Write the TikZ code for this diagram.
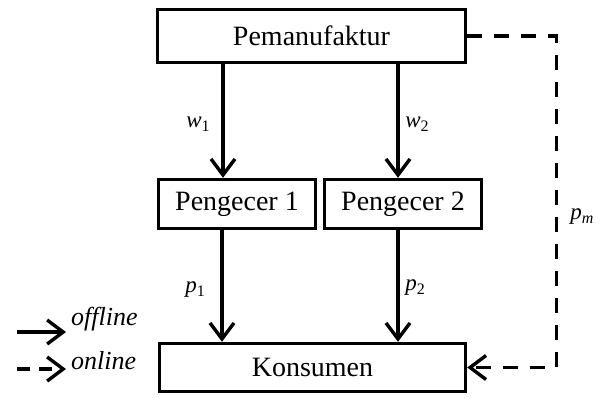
\documentclass[tikz,border=0pt]{standalone}
\usepackage{fontspec}
\setmainfont{Liberation Serif}
\usetikzlibrary{arrows.meta,calc}
\newcommand\mylbl[2]{\textit{#1}\raisebox{-0.35ex}{\fontsize{16}{18}\selectfont #2}}
\tikzset{
  box/.style={draw,line width=3.4pt,rectangle,inner sep=0pt,font=\fontsize{28}{32}\selectfont},
  arr/.style={line width=3.4pt,-{Straight Barb[length=16pt,width=24pt,line width=3.4pt]}},
  darr/.style={arr,dash pattern=on 15pt off 12pt},
  lab/.style={font=\fontsize{23}{27}\selectfont,inner sep=0pt},
  leg/.style={font=\fontsize{26}{30}\selectfont\itshape,inner sep=0pt,anchor=base west}
}
\begin{document}
\begin{tikzpicture}[x=1pt,y=-1pt]
\useasboundingbox (0,0) rectangle (610,397);
\node[box,minimum width=308pt,minimum height=53pt] (pem) at (311.5,36) {Pemanufaktur};
\node[box,minimum width=157pt,minimum height=49pt] (p1) at (237,204) {Pengecer 1};
\node[box,minimum width=157pt,minimum height=49pt] (p2) at (403,204) {Pengecer 2};
\node[box,minimum width=306pt,minimum height=48pt] (kon) at (312.5,367.5) {Konsumen};
\draw[arr] ([xshift=-14pt]p1.north |- pem.south) -- ([xshift=-14pt]p1.north);
\draw[arr] ([xshift=-5pt]p2.north |- pem.south) -- ([xshift=-5pt]p2.north);
\draw[arr] ([xshift=-15pt]p1.south) -- ([xshift=-15pt]p1.south |- kon.north);
\draw[arr] ([xshift=-5pt]p2.south) -- ([xshift=-5pt]p2.south |- kon.north);
\draw[darr,line join=miter] (pem.east) -- ++(89,0) |- (kon.east);
\node[lab] (w1) at (198,124) {\mylbl{w}{1}};
\node[lab] (w2) at (417,124) {\mylbl{w}{2}};
\node[lab] (q1) at (195,290) {\mylbl{p}{1}};
\node[lab] (q2) at (415,288) {\mylbl{p}{2}};
\node[lab] (pm) at (582,217) {\mylbl{p}{\itshape m}};
\coordinate (la) at (17,332);
\coordinate (lb) at (66,332);
\coordinate (lc) at (17,369);
\coordinate (ld) at (66,369);
\draw[arr] (la) -- (lb);
\draw[arr,dash pattern=on 13pt off 9pt] (lc) -- (ld);
\node[leg] (off) at (71,325) {offline};
\node[leg] (on) at (71,369) {online};
\end{tikzpicture}
\end{document}
